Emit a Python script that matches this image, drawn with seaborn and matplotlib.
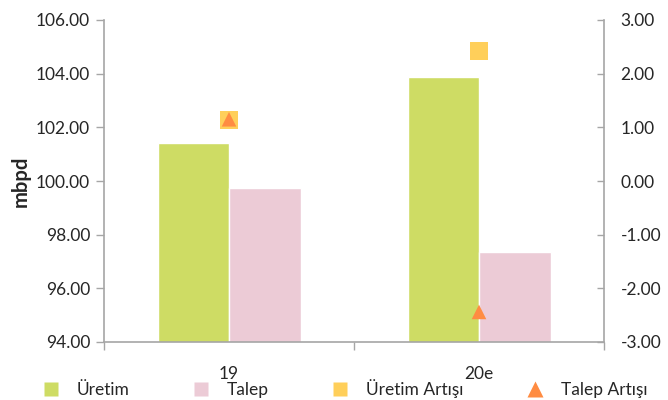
import numpy as np
import pandas as pd
import matplotlib
matplotlib.use("Agg")
import matplotlib.pyplot as plt
from matplotlib.lines import Line2D
from matplotlib.ticker import FixedLocator, FormatStrFormatter
import seaborn as sns

# Categories and values
categories = ["19", "20e"]
uretim = [101.42, 103.88]
talep = [99.74, 97.35]
uretim_artisi = [1.13, 2.43]
talep_artisi = [1.15, -2.44]

series_names = ["Üretim", "Talep", "Üretim Artışı", "Talep Artışı"]
colors = {"Üretim": "#cedc64", "Talep": "#eccbd6",
          "Üretim Artışı": "#ffcf5a", "Talep Artışı": "#ff8c42"}

sns.set_theme(style="white")
plt.rcParams["font.family"] = ["Lato", "DejaVu Sans"]

fig = plt.figure(figsize=(6.68, 4.0), dpi=100)
ax = fig.add_axes([104 / 668, 58 / 400, 500 / 668, 322 / 400])

bars = pd.DataFrame({
    "kategori": categories * 2,
    "seri": ["Üretim"] * len(categories) + ["Talep"] * len(categories),
    "deger": uretim + talep,
})
sns.barplot(data=bars, x="kategori", y="deger", hue="seri", order=categories,
            hue_order=["Üretim", "Talep"], palette=colors, width=0.572,
            saturation=1, ax=ax, legend=False)
ax.set_ylim(94, 106)
ax.set_xlim(-0.5, len(categories) - 0.5)
ax.set_yticks(np.arange(94, 106.1, 2))
ax.yaxis.set_major_formatter(FormatStrFormatter("%.2f"))
ax.set_xlabel("")
ax.set_ylabel("mbpd", fontsize=14.5, fontweight="bold", labelpad=4)

# growth markers on the secondary axis
ax2 = ax.twinx()
pos = np.arange(len(categories))
sns.scatterplot(x=pos, y=uretim_artisi, marker="s", s=170, color=colors["Üretim Artışı"],
                edgecolor="none", ax=ax2, zorder=3)
sns.scatterplot(x=pos, y=talep_artisi, marker="^", s=110, color=colors["Talep Artışı"],
                edgecolor="none", ax=ax2, zorder=4)
ax2.set_ylim(-3, 3)
ax2.set_yticks(np.arange(-3, 3.1, 1))
ax2.yaxis.set_major_formatter(FormatStrFormatter("%.2f"))
ax2.set_xlim(-0.5, len(categories) - 0.5)

spine_col = "#a6a6a6"
for a in (ax, ax2):
    for s in a.spines.values():
        s.set_visible(False)
ax.spines["left"].set_visible(True)
ax.spines["bottom"].set_visible(True)
ax2.spines["right"].set_visible(True)
for s in (ax.spines["left"], ax.spines["bottom"], ax2.spines["right"]):
    s.set_color(spine_col)
    s.set_linewidth(1.2)

ax.tick_params(axis="y", left=True, length=6, width=1, color=spine_col,
               labelsize=12.5, labelcolor="#262626", pad=4)
ax2.tick_params(axis="y", right=True, direction="in", length=5, width=1, color=spine_col,
                labelsize=12.5, labelcolor="#262626", pad=12)

# category labels centred, tick marks on boundaries
ax.set_xticks(pos)
ax.set_xticklabels(categories)
ax.tick_params(axis="x", which="major", length=0, pad=17, labelsize=12.5, labelcolor="#262626")
ax.xaxis.set_minor_locator(FixedLocator(np.arange(-0.5, len(categories), 1.0)))
ax.tick_params(axis="x", which="minor", bottom=True, length=6, width=1, color=spine_col)

handles = [
    Line2D([], [], marker="s", linestyle="none", markersize=10, markerfacecolor=colors["Üretim"], markeredgecolor="none"),
    Line2D([], [], marker="s", linestyle="none", markersize=10, markerfacecolor=colors["Talep"], markeredgecolor="none"),
    Line2D([], [], marker="s", linestyle="none", markersize=10, markerfacecolor=colors["Üretim Artışı"], markeredgecolor="none"),
    Line2D([], [], marker="^", linestyle="none", markersize=11, markerfacecolor=colors["Talep Artışı"], markeredgecolor="none"),
]
fig.legend(handles, series_names, loc="lower left", bbox_to_anchor=(0.04, -0.035), ncol=4,
           frameon=False, fontsize=12.5, handletextpad=1.0, columnspacing=3.6,
           handlelength=1.0, labelcolor="#262626")

fig.savefig("out.png", dpi=100)
